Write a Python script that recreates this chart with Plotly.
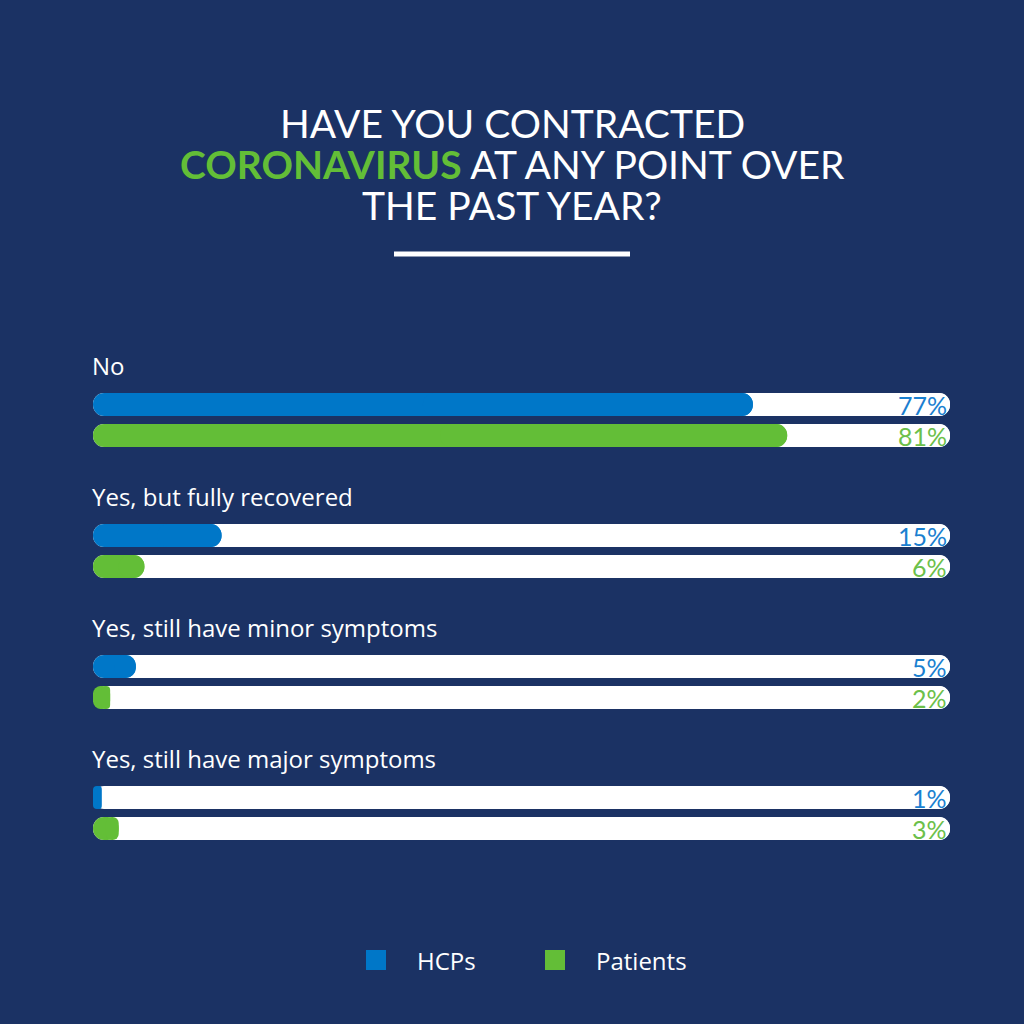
import plotly.graph_objects as go

# ---------------- data ----------------
categories = ["No", "Yes, but fully recovered",
              "Yes, still have minor symptoms", "Yes, still have major symptoms"]
series_names = ["HCPs", "Patients"]
hcps = [77, 15, 5, 1]
patients = [81, 6, 2, 3]
track_full = [100, 100, 100, 100]

# ---------------- style ----------------
BG = "#1b3264"
BLUE = "#0077c8"
GREEN = "#63be37"
BLUE_TXT = "#1a80d0"
GREEN_TXT = "#6cc04a"
WHITE = "#ffffff"
FONT = "Lato"
LABEL_FONT = "Open Sans"

W = H = 1024
L, R, T, B = 93, 74, 300, 124
PLOT_H = H - T - B
GROUP_STEP = 131.0          # px between category centres
CENTER0 = 420.0             # px of first category centre
BAR_PX = 23.0
HALF_GAP = 15.5             # px from category centre to each bar centre

def to_units(px):
    return px / GROUP_STEP

y_top = (T - CENTER0) / GROUP_STEP
y_bot = (H - B - CENTER0) / GROUP_STEP
bw = to_units(BAR_PX)
off_blue = -to_units(HALF_GAP) - bw / 2
off_green = to_units(HALF_GAP) - bw / 2

def px_x(x):
    return (x - L) / (W - L - R)

def px_y(y):
    return (H - B - y) / PLOT_H

fig = go.Figure()

def pill(values, color, offset, name):
    # left half: drawn from value back to zero, rounded at the zero end
    fig.add_trace(go.Bar(
        y=categories, x=[-v for v in values], base=values, orientation="h",
        offset=offset, width=bw, marker=dict(color=color, cornerradius="50%", line=dict(width=0)),
        name=name, showlegend=False, hoverinfo="skip"))
    # right half: rounded at the value end
    fig.add_trace(go.Bar(
        y=categories, x=[v / 2 for v in values], base=[v / 2 for v in values], orientation="h",
        offset=offset, width=bw, marker=dict(color=color, cornerradius="50%", line=dict(width=0)),
        name=name, showlegend=False, hoverinfo="skip"))

pill(track_full, WHITE, off_blue, "track")
pill(track_full, WHITE, off_green, "track")
pill(hcps, BLUE, off_blue, series_names[0])
pill(patients, GREEN, off_green, series_names[1])

annotations = []
# category labels
for c in categories:
    annotations.append(dict(x=0, y=c, xref="x", yref="y", text=c, showarrow=False,
                            xanchor="left", yanchor="middle", yshift=55, xshift=-3,
                            font=dict(family=LABEL_FONT, size=24, color=WHITE)))
# value labels
for c, v in zip(categories, hcps):
    annotations.append(dict(x=100, y=c, xref="x", yref="y", text=f"{v}%", showarrow=False,
                            xanchor="right", yanchor="middle", xshift=-1, yshift=HALF_GAP,
                            font=dict(family=FONT, size=25, color=BLUE_TXT)))
for c, v in zip(categories, patients):
    annotations.append(dict(x=100, y=c, xref="x", yref="y", text=f"{v}%", showarrow=False,
                            xanchor="right", yanchor="middle", xshift=-1, yshift=-HALF_GAP,
                            font=dict(family=FONT, size=25, color=GREEN_TXT)))

# title
title_lines = [
    "HAVE YOU CONTRACTED",
    f"<span style='color:{GREEN}'><b>CORONAVIRUS</b></span> AT ANY POINT OVER",
    "THE PAST YEAR?",
]
for i, t in enumerate(title_lines):
    annotations.append(dict(x=px_x(512), y=px_y(123 + 41 * i), xref="paper", yref="paper",
                            text=t, showarrow=False, xanchor="center", yanchor="middle",
                            font=dict(family=FONT, size=39, color=WHITE)))

# legend
legend_items = [(series_names[0], BLUE, 366), (series_names[1], GREEN, 545)]
shapes = [dict(type="line", xref="paper", yref="paper",
               x0=px_x(394), x1=px_x(630), y0=px_y(254), y1=px_y(254),
               line=dict(color=WHITE, width=5))]
for name, col, x0 in legend_items:
    shapes.append(dict(type="rect", xref="paper", yref="paper",
                       x0=px_x(x0), x1=px_x(x0 + 20), y0=px_y(950), y1=px_y(970),
                       fillcolor=col, line=dict(width=0)))
    annotations.append(dict(x=px_x(x0 + 49), y=px_y(960), xref="paper", yref="paper",
                            text=name, showarrow=False, xanchor="left", yanchor="middle",
                            font=dict(family=LABEL_FONT, size=24, color=WHITE)))

fig.update_layout(
    width=W, height=H, margin=dict(l=L, r=R, t=T, b=B, autoexpand=False),
    paper_bgcolor=BG, plot_bgcolor=BG, barmode="overlay", showlegend=False,
    xaxis=dict(range=[0, 100], visible=False, fixedrange=True),
    yaxis=dict(type="category", categoryarray=categories, range=[y_bot, y_top],
               visible=False, fixedrange=True),
    annotations=annotations, shapes=shapes,
)

fig.write_html("out.html", config={"displayModeBar": False})
